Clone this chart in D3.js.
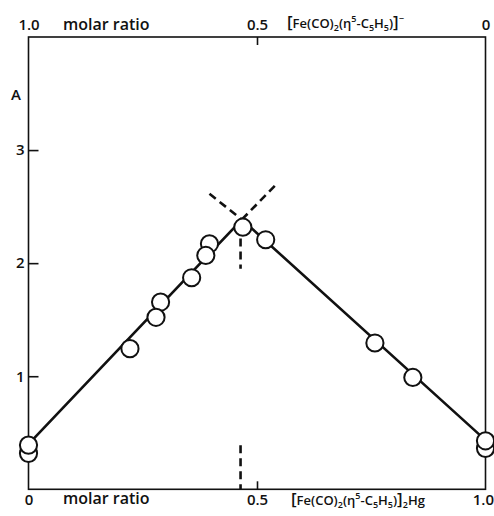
<!DOCTYPE html>
<html>
<head>
<meta charset="utf-8">
<script src="https://cdn.jsdelivr.net/npm/d3@7"></script>
<style>
  body { margin: 0; background: #fff; }
  text { font-family: "Open Sans", sans-serif; font-weight: 600; fill: #111; }
</style>
</head>
<body>
<div id="chart"></div>
<script>
const w = 494;
const h = 516;

// measured points: mole fraction of the Hg complex (bottom axis) vs absorbance A
const molFrac = [0, 0, 0.222, 0.289, 0.279, 0.357, 0.396, 0.388, 0.469, 0.519, 0.758, 0.841, 1.0, 1.0];
const absorb  = [0.318, 0.391, 1.244, 1.656, 1.521, 1.871, 2.171, 2.068, 2.318, 2.207, 1.294, 0.989, 0.362, 0.429];

// straight fits through the two branches, meeting at the maximum
const fitX = [0, 0.467, 1.0];
const fitA = [0.40, 2.386, 0.435];

// dashed extensions beyond the crossing and the marker of the crossing
const extLeft  = [[0.396, 2.613], [0.467, 2.386]];
const extRight = [[0.467, 2.386], [0.540, 2.688]];
const markUpper = [[0.464, 2.218], [0.464, 1.95]];
const markLower = [[0.464, 0.39], [0.464, 0]];

const bottomTicks = [0, 0.5, 1.0];
const bottomTickLabels = ['0', '0.5', '1.0'];
const topTicks = [1.0, 0.5, 0];
const topTickLabels = ['1.0', '0.5', '0'];
const yTicks = [1, 2, 3];

const padL = 28.5, padR = 485.5, padT = 37, padB = 489.3;

const svg = d3.select('#chart').
append('svg').
attr('width', w).
attr('height', h);

const xScale = d3.scaleLinear().domain([0, 1]).range([padL, padR]);
const xTop = d3.scaleLinear().domain([1, 0]).range([padL, padR]);
const yScale = d3.scaleLinear().domain([0, 4]).range([padB, padT]);

// frame
svg.append('rect').
attr('x', padL).
attr('y', padT).
attr('width', padR - padL).
attr('height', padB - padT).
attr('fill', 'none').
attr('stroke', '#111').
attr('stroke-width', 1.6);

function styleAxis(g) {
  g.select('.domain').remove();
  g.selectAll('line').attr('stroke', '#111').attr('stroke-width', 1.6);
  g.selectAll('text').attr('font-size', 15).attr('fill', '#111');
}

const yAxis = d3.axisLeft(yScale).tickValues(yTicks).tickSize(-10).tickPadding(4).tickFormat(d3.format('d'));
svg.append('g').
attr('transform', 'translate(' + padL + ',0)').
call(yAxis).
call(styleAxis);

const xAxis = d3.axisBottom(xScale).tickValues(bottomTicks).tickSize(-8).tickPadding(5).
tickFormat((d, i) => bottomTickLabels[i]);
svg.append('g').
attr('transform', 'translate(0,' + padB + ')').
call(xAxis).
call(styleAxis).
call(g => g.selectAll('.tick line').filter(d => d !== 0.5).remove()).
call(g => g.selectAll('.tick text').filter(d => d === 1).attr('text-anchor', 'end').attr('dx', 8));

const xAxisTop = d3.axisTop(xTop).tickValues(topTicks).tickSize(-8).tickPadding(7).
tickFormat((d, i) => topTickLabels[i]);
svg.append('g').
attr('transform', 'translate(0,' + padT + ')').
call(xAxisTop).
call(styleAxis).
call(g => g.selectAll('.tick line').filter(d => d !== 0.5).remove());

// axis captions
svg.append('text').attr('x', 11).attr('y', 100).attr('font-size', 15).text('A');
svg.append('text').attr('x', 63).attr('y', 30).attr('font-size', 16).text('molar ratio');
svg.append('text').attr('x', 63).attr('y', 504).attr('font-size', 16).text('molar ratio');

function formula(x, y, parts) {
  const t = svg.append('text').attr('x', x).attr('y', y).attr('font-size', 13);
  parts.forEach(p => {
    const s = t.append('tspan').text(p[0]);
    if (p[1] === 'sub') s.attr('font-size', 9).attr('dy', 3);
    if (p[1] === 'sup') s.attr('font-size', 9).attr('dy', -6);
    if (p[1] === 'big') s.attr('font-size', 17);
    if (p[2]) s.attr('dy', p[2]);
  });
}

formula(287, 28, [['[', 'big'], ['Fe(CO)'], ['2', 'sub'], ['(η', null, -3], ['5', 'sup'], ['-C', null, 6], ['5', 'sub'],
  ['H', null, -3], ['5', 'sub'], [')', null, -3], [']', 'big'], ['−', 'sup']]);
formula(291, 505, [['[', 'big'], ['Fe(CO)'], ['2', 'sub'], ['(η', null, -3], ['5', 'sup'], ['-C', null, 6], ['5', 'sub'],
  ['H', null, -3], ['5', 'sub'], [')', null, -3], [']', 'big'], ['2', 'sub'], ['Hg', null, -3]]);

// fitted lines
const line = d3.line().x(d => xScale(d[0])).y(d => yScale(d[1]));
svg.append('path').
datum(fitX.map((x, i) => [x, fitA[i]])).
attr('d', line).
attr('fill', 'none').
attr('stroke', '#111').
attr('stroke-width', 2.6);

[extLeft, extRight, markUpper, markLower].forEach(seg => {
  svg.append('path').
  datum(seg).
  attr('d', line).
  attr('fill', 'none').
  attr('stroke', '#111').
  attr('stroke-width', 2.6).
  attr('stroke-dasharray', '8,5');
});

// measured points
svg.selectAll('circle.pt').
data(molFrac.map((x, i) => [x, absorb[i]])).
enter().
append('circle').
attr('class', 'pt').
attr('cx', d => xScale(d[0])).
attr('cy', d => yScale(d[1])).
attr('r', 8.6).
attr('fill', '#fff').
attr('stroke', '#111').
attr('stroke-width', 2);
</script>
</body>
</html>
